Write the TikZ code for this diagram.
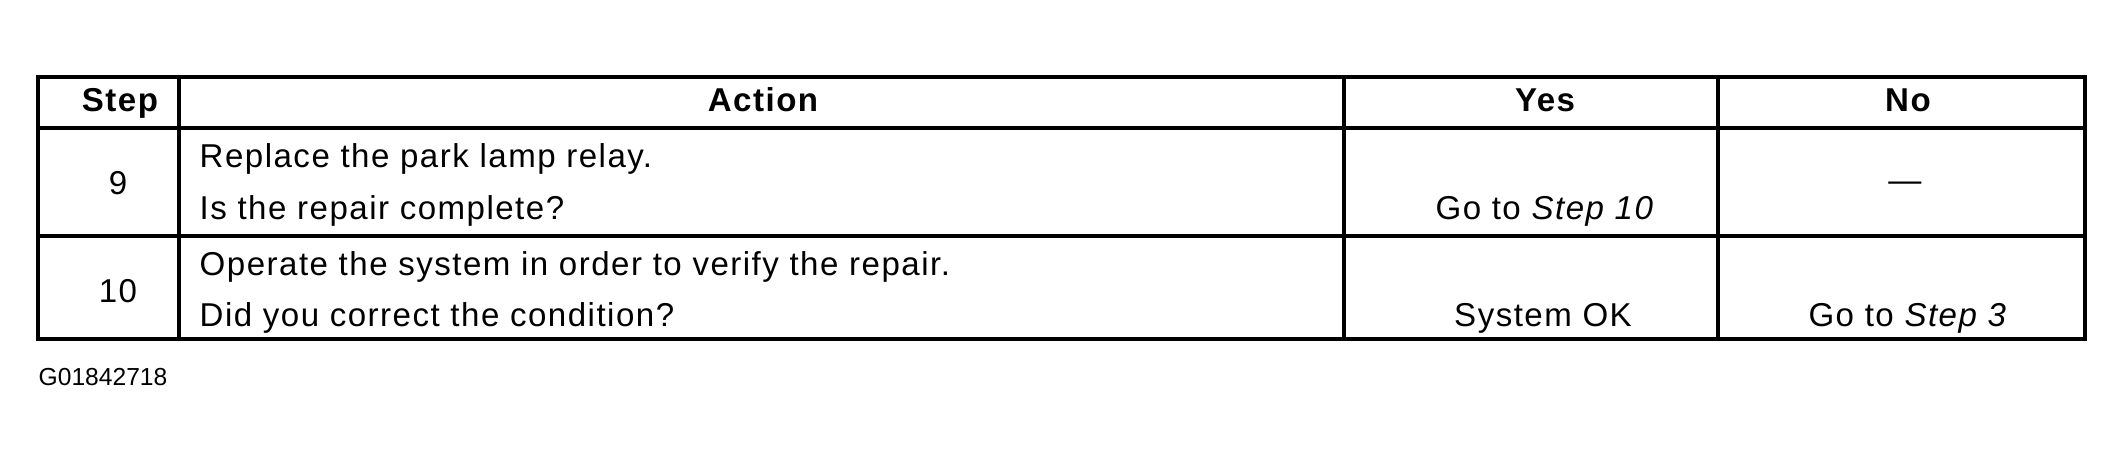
\documentclass[tikz,border=0pt]{standalone}
\usepackage{fontspec}
\setmainfont{Liberation Sans}
\newfontfamily\cellfont[LetterSpace=4.5]{Liberation Sans}
\usetikzlibrary{positioning}

\begin{document}
\begin{tikzpicture}
			[
				x = 0.01cm, y = -0.01cm,
				mygrid/.style = {line width = 1.1pt},
				mycell/.style = {anchor = base, inner sep = 0pt, font = \cellfont\fontsize{9.4pt}{11pt}\selectfont},
				myhead/.style = {mycell, font = \cellfont\fontsize{9.4pt}{11pt}\selectfont\bfseries},
				myaction/.style = {mycell, anchor = base west},
				mylabel/.style = {anchor = base west, inner sep = 0pt, font = \fontsize{7pt}{8pt}\selectfont}
			]
			\useasboundingbox (0,0) rectangle (2124,461);
			%
			% table frame and rules
			\coordinate (topleft) at (38,77);
			\coordinate (botright) at (2085,339);
			\draw [mygrid] (topleft) rectangle (botright);
			\foreach \y in {128, 236}
				\draw [mygrid] (38,\y) -- (2085,\y);
			\foreach \x in {179, 1344, 1718}
				\draw [mygrid] (\x,77) -- (\x,339);
			%
			% header
			\node (step) [myhead] at (120,112) {Step};
			\node (action) [myhead] at (763,112) {Action};
			\node (yes) [myhead] at (1545,112) {Yes};
			\node (no) [myhead] at (1908,112) {No};
			%
			% step 9
			\node (nine) [mycell] at (118,195) {9};
			\node (actnine) [myaction] at (199,168) {Replace the park lamp relay.};
			\node (asknine) [myaction] at (199,220) {Is the repair complete?};
			\node (yesnine) [mycell] at (1545,220) {Go to \textit{Step 10}};
			\node (nonine) [mycell] at (1905,192) {\textemdash};
			%
			% step 10
			\node (ten) [mycell] at (118,303) {10};
			\node (actten) [myaction] at (199,275) {Operate the system in order to verify the repair.};
			\node (askten) [myaction] at (199,327) {Did you correct the condition?};
			\node (yesten) [mycell] at (1543,327) {System OK};
			\node (noten) [mycell] at (1908,327) {Go to \textit{Step 3}};
			%
			\node (figid) [mylabel] at (38,385) {G01842718};
			%
		\end{tikzpicture}
\end{document}
